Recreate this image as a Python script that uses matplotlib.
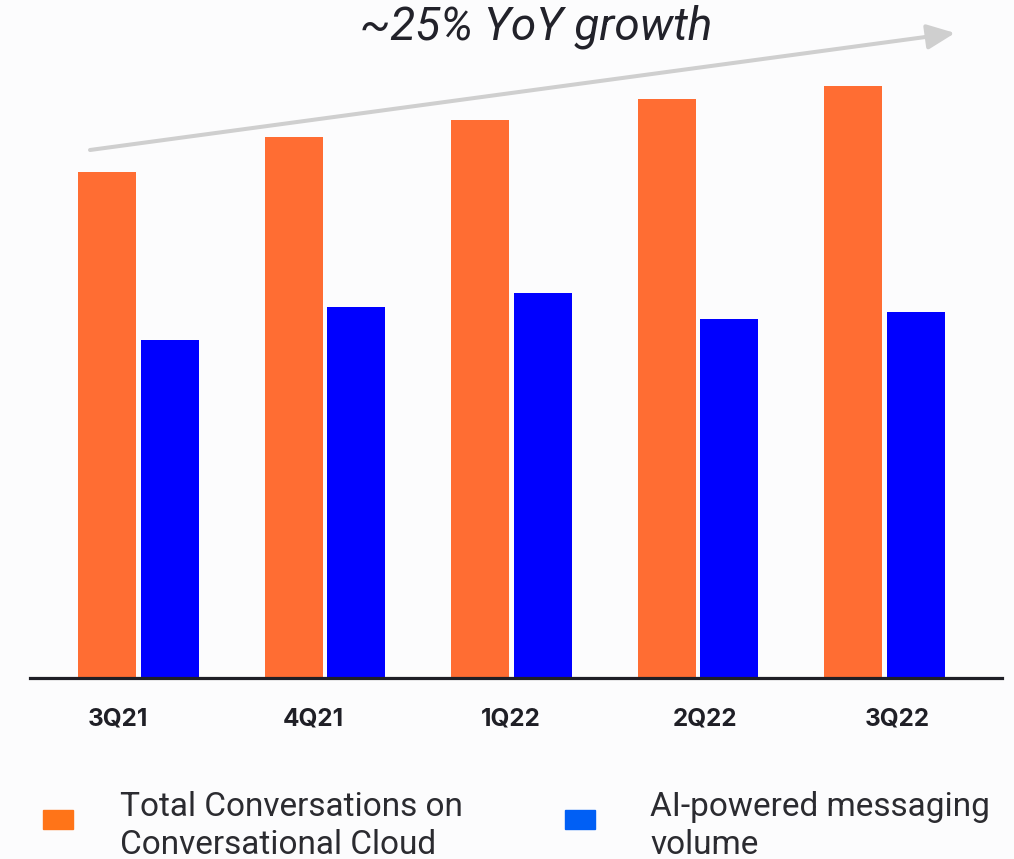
import matplotlib
matplotlib.use("Agg")
import matplotlib.pyplot as plt
from matplotlib.patches import Rectangle
import numpy as np

quarters = ["3Q21", "4Q21", "1Q22", "2Q22", "3Q22"]
total_conversations = [506, 541, 558, 579, 592]
ai_messaging = [338, 371, 385, 359, 366]
legend_labels = ["Total Conversations on\nConversational Cloud", "AI-powered messaging\nvolume"]
title = "~25% YoY growth"

ORANGE = "#ff6d33"
BLUE = "#0000ff"
LEG_ORANGE = "#ff7418"
LEG_BLUE = "#005ff5"
DARK = "#1f1f26"
BG = "#fcfcfd"

W, H = 1014, 859
fig = plt.figure(figsize=(W / 100, H / 100), dpi=100, facecolor=BG)
ax = fig.add_axes([30 / W, (H - 678) / H, 972 / W, 678 / H], facecolor=BG)

x = np.arange(len(quarters))
width = 0.31
ax.bar(x - 0.165, total_conversations, width, color=ORANGE, zorder=2)
ax.bar(x + 0.17, ai_messaging, width, color=BLUE, zorder=2)

ax.set_xlim(-0.579, 4.633)
ax.set_ylim(0, 678)

for side in ["top", "left", "right"]:
    ax.spines[side].set_visible(False)
ax.spines["bottom"].set_color(DARK)
ax.spines["bottom"].set_linewidth(2.3)
ax.spines["bottom"].set_zorder(3)
ax.set_yticks([])

# labels sit slightly off the group centres in the original
label_shift = [-0.11, -0.06, 0.0, 0.04, 0.07]
ax.set_xticks(x + np.array(label_shift))
ax.set_xticklabels(quarters, fontsize=17.5, fontweight="bold", color=DARK,
                   family=["Inter", "DejaVu Sans"])
ax.tick_params(axis="x", length=0, pad=21)

# growth arrow
ax.annotate("", xy=(955, H - 33), xytext=(90, H - 150),
            xycoords="figure pixels", textcoords="figure pixels",
            arrowprops=dict(arrowstyle="-|>,head_length=1.0,head_width=0.45",
                            color="#cfcfcf", lw=2.9, mutation_scale=17,
                            shrinkA=0, shrinkB=0))
fig.text(536 / W, 1 - 27 / H, title, ha="center", va="center",
         fontsize=33, style="italic", color="#22222a",
         family=["Roboto", "DejaVu Sans"])

# legend
for (px, tx), label, col in zip([(43, 120), (565, 650)], legend_labels, [LEG_ORANGE, LEG_BLUE]):
    fig.patches.append(Rectangle((px / W, (H - 829) / H), 30 / W, 19 / H,
                                 transform=fig.transFigure, color=col))
    fig.text(tx / W, 1 - 826 / H, label, ha="left", va="center",
             fontsize=24, color="#2b2b30", linespacing=1.22,
             family=["Roboto", "DejaVu Sans"])

fig.savefig("out.png", dpi=100, facecolor=BG)
